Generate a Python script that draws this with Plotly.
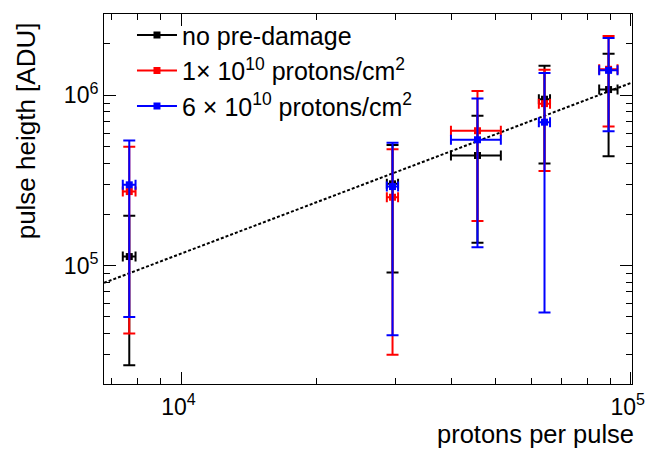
import plotly.graph_objects as go

# ---- data ----
protons = [7650, 29500, 45600, 64300, 89300]
protons_err = [250, 850, 5800, 1840, 4200]

ph_none = [1.13e5, 3.02e5, 4.43e5, 9.48e5, 1.08e6]
ph_none_up = [8.3e4, 2.08e5, 3.16e5, 5.4e5, 6.7e5]
ph_none_dn = [8.7e4, 2.11e5, 3.07e5, 5.5e5, 6.42e5]

ph_1e10 = [2.72e5, 2.52e5, 6.19e5, 8.93e5, 1.42e6]
ph_1e10_up = [2.27e5, 2.3e5, 4.4e5, 5.2e5, 8.1e5]
ph_1e10_dn = [2.32e5, 2.22e5, 4.36e5, 5.34e5, 7.65e5]

ph_6e10 = [2.98e5, 2.91e5, 5.48e5, 6.95e5, 1.40e6]
ph_6e10_up = [2.44e5, 2.36e5, 4.1e5, 6.55e5, 7.7e5]
ph_6e10_dn = [2.48e5, 2.52e5, 4.2e5, 6.42e5, 7.85e5]

fit_x = [6720, 100000]
fit_y = [7.92e4, 1.179e6]

names = ["no pre-damage",
         "1× 10<sup>10</sup> protons/cm<sup>2</sup>",
         "6 × 10<sup>10</sup> protons/cm<sup>2</sup>"]
colors = ["#000000", "#ff0000", "#0000ff"]

x_major = [1e4, 1e5]
x_major_text = ["10<sup>4</sup>", "10<sup>5</sup>"]
y_major = [1e5, 1e6]
y_major_text = ["10<sup>5</sup>", "10<sup>6</sup>"]
x_minor = [7000, 8000, 9000, 20000, 30000, 40000, 50000, 60000, 70000, 80000, 90000]
y_minor = [2e4, 3e4, 4e4, 5e4, 6e4, 7e4, 8e4, 9e4,
           2e5, 3e5, 4e5, 5e5, 6e5, 7e5, 8e5, 9e5, 2e6, 3e6]

FONT = "Liberation Sans, Arial, Helvetica, sans-serif"

fig = go.Figure()

series = [(ph_none, ph_none_up, ph_none_dn),
          (ph_1e10, ph_1e10_up, ph_1e10_dn),
          (ph_6e10, ph_6e10_up, ph_6e10_dn)]

for i, (ys, up, dn) in enumerate(series):
    fig.add_trace(go.Scatter(
        x=protons, y=ys, mode="markers",
        marker=dict(symbol="square", size=7, color=colors[i]),
        error_y=dict(type="data", array=up, arrayminus=dn, symmetric=False,
                     color=colors[i], thickness=2, width=6),
        error_x=dict(type="data", array=protons_err, symmetric=True, color=colors[i],
                     thickness=2, width=5),
        showlegend=False, hoverinfo="skip"))
    if i == 0:
        fig.add_trace(go.Scatter(
            x=fit_x, y=fit_y, mode="lines",
            line=dict(color="black", width=2, dash="3px,2px"),
            showlegend=False, hoverinfo="skip"))

for i in range(3):
    fig.add_trace(go.Scatter(
        x=[None], y=[None], mode="lines+markers", name=names[i],
        line=dict(color=colors[i], width=2),
        marker=dict(symbol="square", size=7, color=colors[i])))

axis_common = dict(
    type="log", showgrid=False, zeroline=False, automargin=False,
    showline=True, linecolor="black", linewidth=1, mirror="allticks",
    ticks="inside", ticklen=12, tickwidth=1, tickcolor="black",
    tickmode="array", ticklabeloverflow="allow",
    tickfont=dict(family=FONT, size=23, color="black"),
)

fig.update_xaxes(
    **axis_common,
    range=[3.8274, 5.003],
    tickvals=x_major, ticktext=x_major_text,
    ticklabelstandoff=2, ticklabelshift=-3,
    minor=dict(tickmode="array", tickvals=x_minor, ticks="inside",
               ticklen=6, tickwidth=1, tickcolor="black", showgrid=False),
)
fig.update_yaxes(
    **axis_common,
    range=[4.305, 6.477],
    tickvals=y_major, ticktext=y_major_text,
    minor=dict(tickmode="array", tickvals=y_minor, ticks="inside",
               ticklen=6, tickwidth=1, tickcolor="black", showgrid=False),
)

fig.add_annotation(text="protons per pulse", xref="paper", yref="paper",
                   x=1.0057, y=-0.1757, xanchor="right", yanchor="bottom",
                   borderpad=0,
                   showarrow=False, font=dict(family=FONT, size=25.5, color="black"))
fig.add_annotation(text="pulse heigth [ADU]", xref="paper", yref="paper",
                   x=-0.146, y=0.984, xanchor="center", yanchor="top", textangle=-90,
                   showarrow=False, font=dict(family=FONT, size=26, color="black"))

fig.update_layout(
    width=645, height=450,
    margin=dict(l=104, r=13, t=14, b=66, autoexpand=False),
    paper_bgcolor="white", plot_bgcolor="white",
    legend=dict(x=0.053, y=1.005, xanchor="left", yanchor="top",
                bgcolor="rgba(0,0,0,0)",
                font=dict(family=FONT, size=25, color="black"),
                itemwidth=40, tracegroupgap=0),
    font=dict(family=FONT, color="black"),
)

fig.write_html("out.html")
